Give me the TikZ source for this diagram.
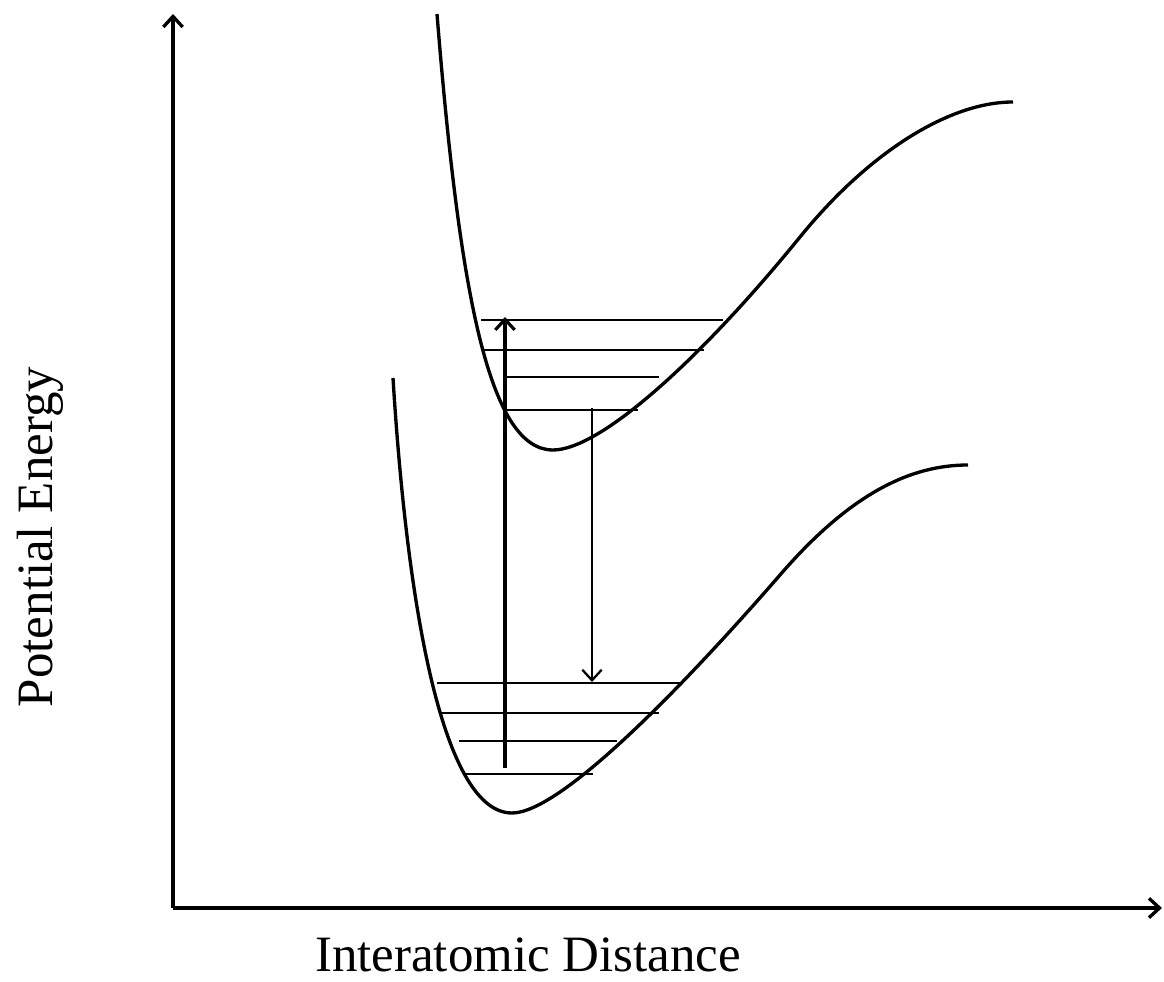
\documentclass[tikz,border=0pt]{standalone}
\usepackage{fontspec}
\setmainfont{Liberation Serif}
\usetikzlibrary{positioning,arrows.meta}

\begin{document}
\begin{tikzpicture}[x=0.02cm, y=-0.02cm,
    axis/.style={line width=1.9pt, -{Straight Barb[length=6pt,width=11pt]}},
    curve/.style={line width=1.9pt},
    level/.style={line width=1.3pt},
    trans/.style={-{Straight Barb[length=6pt,width=11pt]}},
    every node/.style={font=\fontsize{29}{34}\selectfont, inner sep=0pt}]
    \useasboundingbox (0,0) rectangle (1164,982);
    % axes
    \coordinate (o) at (173,908);
    \coordinate (ytop) at (173,14);
    \coordinate (xend) at (1162,908);
    \draw[axis] (o) -- (ytop);
    \draw[axis] (o) -- (xend);
    \node (xlab) at (528,955) {Interatomic Distance};
    \node (ylab) [rotate=90] at (40,537) {Potential Energy};
    % excited state
    \draw[curve] (437,14) .. controls (460,300) and (490,450) .. (553,450)
      .. controls (600,450) and (700,360) .. (800,237)
      .. controls (870,151) and (950,102) .. (1013,102);
    % ground state
    \draw[curve] (393,378) .. controls (408,620) and (445,813) .. (512,813)
      .. controls (560,813) and (680,690) .. (780,575)
      .. controls (850,494) and (910,465) .. (968,465);
    % vibrational levels
    \foreach \y/\a/\b in {320/481/723, 350/484/704, 377/506/659, 410/505/638,
                          683/437/680, 713/440/659, 741/459/617, 774/463/593}
      \draw[level] (\a,\y) -- (\b,\y);
    % absorption and emission
    \coordinate (up0) at (505,768);
    \coordinate (up1) at (505,317);
    \coordinate (dn0) at (592,408);
    \coordinate (dn1) at (592,682);
    \draw[trans, line width=1.8pt] (up0) -- (up1);
    \draw[trans, line width=1.3pt] (dn0) -- (dn1);
\end{tikzpicture}
\end{document}
